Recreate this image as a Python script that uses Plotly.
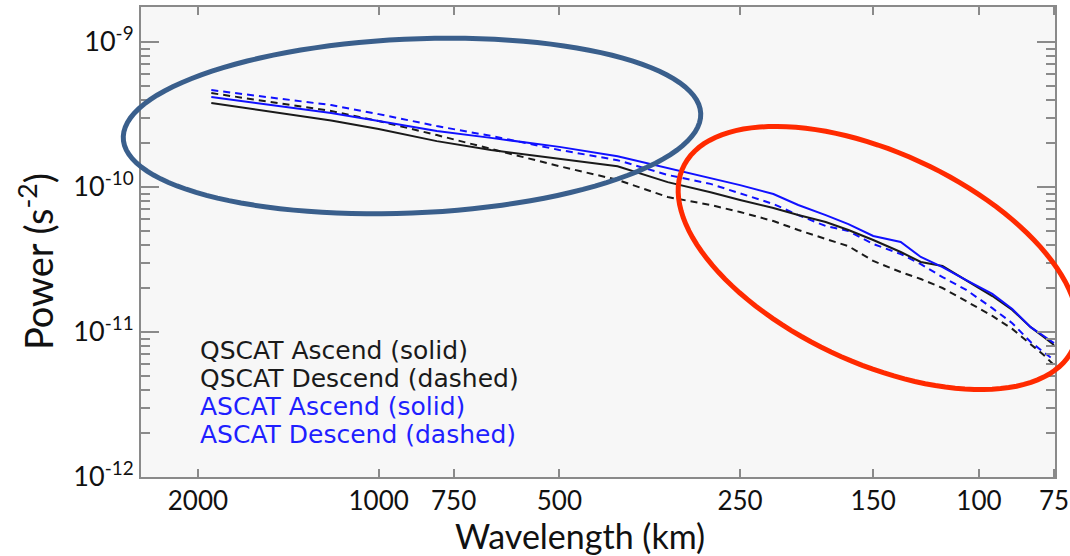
import numpy as np
import plotly.graph_objects as go

# ---------------- data ----------------
wavelength_km = [1900, 1500, 1200, 1000, 800, 650, 500, 400, 330, 280, 250, 220, 200,
                 180, 165, 150, 135, 125, 115, 105, 95, 88, 82, 78, 75]

qscat_ascend = [3.79e-10, 3.29e-10, 2.87e-10, 2.51e-10, 2.07e-10, 1.80e-10, 1.56e-10,
                1.39e-10, 1.08e-10, 9.2e-11, 8.13e-11, 7.16e-11, 6.40e-11, 5.73e-11,
                5.05e-11, 4.31e-11, 3.56e-11, 3.04e-11, 2.85e-11, 2.28e-11, 1.77e-11,
                1.42e-11, 1.08e-11, 9.23e-12, 8.13e-12]

qscat_descend = [4.44e-10, 3.85e-10, 3.34e-10, 2.85e-10, 2.28e-10, 1.83e-10, 1.39e-10,
                 1.12e-10, 8.52e-11, 7.51e-11, 6.72e-11, 5.82e-11, 5.05e-11, 4.38e-11,
                 3.91e-11, 3.09e-11, 2.59e-11, 2.32e-11, 2.01e-11, 1.63e-11, 1.29e-11,
                 1.05e-11, 8.26e-12, 6.93e-12, 5.92e-12]

ascat_ascend = [4.17e-10, 3.67e-10, 3.24e-10, 2.85e-10, 2.43e-10, 2.18e-10, 1.89e-10,
                1.63e-10, 1.35e-10, 1.15e-10, 1.03e-10, 8.94e-11, 7.51e-11, 6.40e-11,
                5.55e-11, 4.59e-11, 4.17e-11, 3.29e-11, 2.80e-11, 2.28e-11, 1.83e-11,
                1.44e-11, 1.08e-11, 9.38e-12, 8.39e-12]

ascat_descend = [4.66e-10, 4.11e-10, 3.67e-10, 3.18e-10, 2.63e-10, 2.25e-10, 1.80e-10,
                 1.53e-10, 1.21e-10, 1.05e-10, 9.08e-11, 7.63e-11, 6.40e-11, 5.38e-11,
                 4.97e-11, 4.04e-11, 3.45e-11, 2.94e-11, 2.39e-11, 1.95e-11, 1.46e-11,
                 1.15e-11, 8.52e-12, 7.27e-12, 6.40e-12]

x_tick_vals = [2000, 1000, 750, 500, 250, 150, 100, 75]
x_tick_text = ["2000", "1000", "750", "500", "250", "150", "100", "75"]
y_tick_vals = [1e-12, 1e-11, 1e-10, 1e-9]
y_tick_text = ["10<sup>-12</sup>", "10<sup>-11</sup>", "10<sup>-10</sup>", "10<sup>-9</sup>"]

legend_labels = ["QSCAT Ascend (solid)", "QSCAT Descend (dashed)",
                 "ASCAT Ascend (solid)", "ASCAT Descend (dashed)"]
legend_colors = ["#1a1a1a", "#1a1a1a", "#1f1fff", "#1f1fff"]

x_title = "Wavelength (km)"
y_title = "Power (s<sup>-2</sup>)"

# ---------------- layout geometry ----------------
W, H = 1070, 556
L, R, T, B = 141, 1055, 7, 477
PW, PH = R - L, B - T

BLACK = "#1a1a1a"
BLUE = "#1010ff"

fig = go.Figure()
series = [
    (qscat_descend, BLACK, "dash"),
    (ascat_descend, BLUE, "dash"),
    (qscat_ascend, BLACK, "solid"),
    (ascat_ascend, BLUE, "solid"),
]
for vals, col, dash in series:
    fig.add_trace(go.Scatter(
        x=wavelength_km, y=vals, mode="lines",
        line=dict(color=col, width=2, dash=("7px,5px" if dash == "dash" else "solid")),
        showlegend=False, hoverinfo="skip"))


def ellipse_path(cx, cy, a, b, ang_deg):
    t = np.linspace(0, 2 * np.pi, 120)
    th = np.deg2rad(ang_deg)
    px = cx + a * np.cos(t) * np.cos(th) - b * np.sin(t) * np.sin(th)
    py = cy + a * np.cos(t) * np.sin(th) + b * np.sin(t) * np.cos(th)
    xs = (px - L) / PW
    ys = (B - py) / PH
    pts = [f"{x:.5f},{y:.5f}" for x, y in zip(xs, ys)]
    return "M" + " L".join(pts) + " Z"


shapes = [
    dict(type="path", xref="paper", yref="paper",
         path=ellipse_path(412, 126, 289, 87, -2.5),
         line=dict(color="#3a5f8c", width=5), fillcolor="rgba(0,0,0,0)", layer="above"),
    dict(type="path", xref="paper", yref="paper",
         path=ellipse_path(878, 258, 215, 105, 25),
         line=dict(color="#ff2a00", width=5), fillcolor="rgba(0,0,0,0)", layer="above"),
]

legend_y_px = [350, 378, 406, 434]
annotations = []
for lab, col, ypx in zip(legend_labels, legend_colors, legend_y_px):
    annotations.append(dict(
        text=lab, xref="paper", yref="paper",
        x=(198 - L) / PW, y=(B - ypx) / PH, xanchor="left", yanchor="middle",
        showarrow=False, font=dict(family="DejaVu Sans", size=25, color=col)))

# axis titles placed as in the reference
annotations.append(dict(
    text=x_title, xref="paper", yref="paper",
    x=(580 - L) / PW, y=(B - 535) / PH, xanchor="center", yanchor="middle",
    showarrow=False, font=dict(family="Lato", size=34, color="#111")))
annotations.append(dict(
    text=y_title, xref="paper", yref="paper", textangle=-90,
    x=(36 - L) / PW, y=(B - 262) / PH, xanchor="center", yanchor="middle",
    showarrow=False, font=dict(family="Lato", size=38, color="#111")))

minor_y = [m * 10.0 ** e for e in range(-12, -8) for m in range(2, 10)]

AX = "#8a8a8a"
fig.update_layout(
    width=W, height=H,
    margin=dict(l=L, r=W - R, t=T, b=H - B, autoexpand=False),
    paper_bgcolor="white", plot_bgcolor="#f7f7f7",
    shapes=shapes, annotations=annotations,
    xaxis=dict(
        type="log", range=[np.log10(2488), np.log10(74.7)],
        tickvals=x_tick_vals, ticktext=x_tick_text,
        ticks="inside", ticklen=8, tickwidth=1.5, tickcolor=AX,
        showline=True, linecolor=AX, linewidth=2, mirror="ticks",
        showgrid=False, zeroline=False, automargin=False,
        tickfont=dict(family="Lato", size=26, color="#111"),
    ),
    yaxis=dict(
        type="log", range=[-12, -8.759],
        tickvals=y_tick_vals, ticktext=y_tick_text,
        ticks="inside", ticklen=18, tickwidth=1.5, tickcolor=AX,
        minor=dict(tickmode="array", tickvals=minor_y, ticks="inside", ticklen=9,
                   tickwidth=1.5, tickcolor=AX, showgrid=False),
        showline=True, linecolor=AX, linewidth=2, mirror="ticks",
        showgrid=False, zeroline=False, automargin=False,
        tickfont=dict(family="Lato", size=27, color="#111"),
    ),
)

fig.write_html("out.html")
